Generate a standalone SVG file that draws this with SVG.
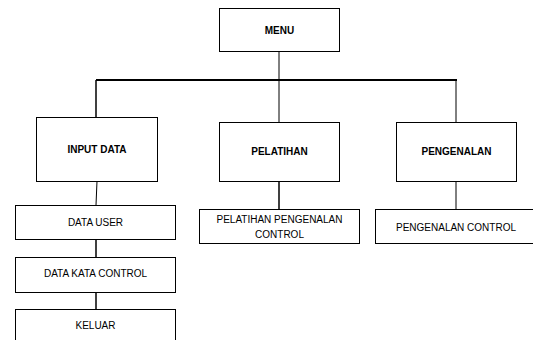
<svg xmlns="http://www.w3.org/2000/svg" width="533" height="340" viewBox="0 0 533 340">
<style>
rect{fill:#fff;stroke:#000;stroke-width:1}
text{font-family:"Liberation Sans",Arial,sans-serif;font-size:10px;fill:#000;text-anchor:middle}
.b{font-weight:bold}
.c line{stroke:#000;stroke-width:1}
</style>
<rect x="0" y="0" width="533" height="340" style="stroke:none"/>
<g class="c" id="connectors">
<line x1="279" y1="52" x2="279" y2="122"/>
<line x1="96" y1="80" x2="457" y2="80" style="stroke-width:2"/>
<line x1="96" y1="80" x2="96" y2="117" style="stroke-width:1.5"/>
<line x1="456" y1="80" x2="456" y2="122"/>
<line x1="97" y1="181" x2="96" y2="205"/>
<line x1="96" y1="239" x2="96" y2="257" style="stroke-width:1.5"/>
<line x1="96" y1="292" x2="96" y2="309" style="stroke-width:1.5"/>
<line x1="279" y1="181" x2="279" y2="209" style="stroke-width:1.5"/>
<line x1="456" y1="181" x2="456" y2="209"/>
</g>
<g id="menu"><rect x="219.5" y="8.5" width="120" height="43"/><text class="b" x="279.5" y="34">MENU</text></g>
<g id="input-data"><rect x="36.5" y="117.5" width="121" height="64"/><text class="b" x="97" y="153">INPUT DATA</text></g>
<g id="pelatihan"><rect x="219.5" y="122.5" width="120" height="59"/><text class="b" x="279.5" y="155">PELATIHAN</text></g>
<g id="pengenalan"><rect x="396.5" y="122.5" width="120" height="59"/><text class="b" x="456.5" y="155">PENGENALAN</text></g>
<g id="data-user"><rect x="15.5" y="205.5" width="160" height="34"/><text x="95.5" y="226">DATA USER</text></g>
<g id="data-kata-control"><rect x="15.5" y="257.5" width="160" height="35"/><text x="95.5" y="277">DATA KATA CONTROL</text></g>
<g id="keluar"><rect x="15.5" y="309.5" width="160" height="40"/><text x="95.5" y="329">KELUAR</text></g>
<g id="pelatihan-pengenalan-control"><rect x="199.5" y="209.5" width="160" height="34"/><text x="279.5" y="223">PELATIHAN PENGENALAN</text><text x="279.5" y="238">CONTROL</text></g>
<g id="pengenalan-control"><rect x="375.5" y="209.5" width="158" height="34"/><text x="456" y="231">PENGENALAN CONTROL</text></g>
</svg>
